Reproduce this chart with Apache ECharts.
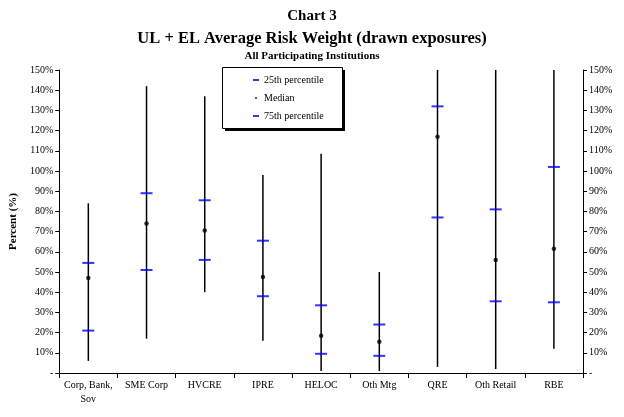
<!DOCTYPE html>
<html>
<head>
<meta charset="utf-8">
<script src="https://cdn.jsdelivr.net/npm/echarts@6/dist/echarts.min.js"></script>
<style>
html,body{margin:0;padding:0;background:#fff;}
#chart{width:624px;height:417px;}
</style>
</head>
<body>
<div id="chart"></div>
<script>
var categories = ['Corp, Bank,\nSov', 'SME Corp', 'HVCRE', 'IPRE', 'HELOC', 'Oth Mtg', 'QRE', 'Oth Retail', 'RBE'];
var minVals = [6, 17, 40, 16, 1, 1, 3, 2, 12];
var maxVals = [84, 142, 137, 98, 108.5, 50, 150, 150, 150];
var p25 = [21, 51, 56, 38, 9.5, 8.5, 77, 35.5, 35];
var medians = [47, 74, 70.5, 47.5, 18.5, 15.5, 117, 56, 61.5];
var p75 = [54.5, 89, 85.5, 65.5, 33.5, 24, 132, 81, 102];
var yTicks = [0, 10, 20, 30, 40, 50, 60, 70, 80, 90, 100, 110, 120, 130, 140, 150];

var FONT = 'Liberation Serif';
function pct(v){ return v === 0 ? '-' : v + '%'; }

var rangeData = categories.map(function(c, i){ return [i, minVals[i], maxVals[i]]; });

var chart = echarts.init(document.getElementById('chart'), null, {renderer:'canvas'});
var yAxisBase = {
  type: 'value', min: yTicks[0], max: yTicks[yTicks.length-1], interval: 10,
  splitLine: {show:false},
  axisLine: {show:true, lineStyle:{color:'#000', width:1}},
  axisTick: {show:true, length:4, lineStyle:{color:'#000'}},
  axisLabel: {formatter: pct, fontFamily: FONT, fontSize: 10, color:'#000', margin: 6}
};
chart.setOption({
  animation: false,
  backgroundColor: '#fff',
  textStyle: {fontFamily: FONT},
  title: [
    {text: 'Chart 3', left: 'center', top: 4, textStyle:{fontFamily:FONT, fontWeight:'bold', fontSize:15, color:'#000'}},
    {text: 'UL + EL Average Risk Weight (drawn exposures)', left: 'center', top: 25, textStyle:{fontFamily:FONT, fontWeight:'bold', fontSize:16.5, color:'#000'}},
    {text: 'All Participating Institutions', left: 'center', top: 46, textStyle:{fontFamily:FONT, fontWeight:'bold', fontSize:11, color:'#000'}}
  ],
  graphic: [
    {type:'rect', left: 225, top: 70, shape:{width:120, height:61}, style:{fill:'#000'}, z: 10},
    {type:'rect', left: 222, top: 67, shape:{width:120, height:61}, style:{fill:'#fff', stroke:'#000', lineWidth:1}, z: 11}
  ],
  legend: {
    orient: 'vertical', left: 222, top: 67, z: 20,
    padding: [7, 17, 7, 31],
    itemGap: 6, itemWidth: 6, itemHeight: 2,
    textStyle: {fontFamily: FONT, fontSize: 10, color:'#000', lineHeight: 12},
    data: [
      {name: '25th percentile', icon: 'rect'},
      {name: 'Median', icon: 'circle'},
      {name: '75th percentile', icon: 'rect'}
    ]
  },
  grid: {left: 55, right: 41, top: 70, bottom: 44},
  xAxis: {
    type: 'category', data: categories, boundaryGap: true,
    axisLine: {lineStyle:{color:'#000', width:1}},
    axisTick: {show:true, length:5, interval:0, lineStyle:{color:'#000'}},
    axisLabel: {interval:0, fontFamily: FONT, fontSize: 10, color:'#000', margin: 5, lineHeight: 14}
  },
  yAxis: [
    Object.assign({}, yAxisBase, {position:'left', name:'Percent (%)', nameLocation:'middle', nameGap: 40,
      nameTextStyle:{fontFamily:FONT, fontWeight:'bold', fontSize:11, color:'#000'}}),
    Object.assign({}, yAxisBase, {position:'right'})
  ],
  series: [
    {
      type: 'custom', name: 'range', data: rangeData, clip: true, z: 1,
      encode: {x: 0, y: [1, 2]},
      renderItem: function(params, api){
        var lo = api.coord([api.value(0), api.value(1)]);
        var hi = api.coord([api.value(0), api.value(2)]);
        return {type:'line', shape:{x1: lo[0], y1: lo[1], x2: hi[0], y2: hi[1]},
          style:{stroke:'#000', lineWidth: 1.5}};
      }
    },
    {type:'scatter', name:'25th percentile', data:p25, symbol:'rect', symbolSize:[12,2], itemStyle:{color:'#0000ff'}, z:3},
    {type:'scatter', name:'Median', data:medians, symbol:'circle', symbolSize:4.5, itemStyle:{color:'#000'}, z:4},
    {type:'scatter', name:'75th percentile', data:p75, symbol:'rect', symbolSize:[12,2], itemStyle:{color:'#0000ff'}, z:3}
  ]
});
</script>
</body>
</html>
